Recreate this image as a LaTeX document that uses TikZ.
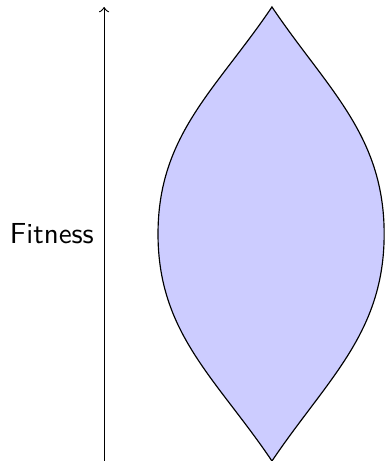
\documentclass[tikz,border=0pt]{standalone}
\begin{document}
\begin{tikzpicture}[x=1pt, y=1pt]
            \useasboundingbox (0, 0) rectangle (133.2, 159);
            \tikzset{every node/.style = {font=\sffamily}}

            {
                \coordinate (base) at (35.9, 0);
                \coordinate (tip) at (35.9, 156.6);

                \coordinate (top) at (93.8, 156.6);
                \coordinate (left) at (54.5, 78.3);
                \coordinate (bottom) at (93.8, 0);
                \coordinate (right) at (132.5, 78.3);
            }

            % fitness axis with its label
            \draw (base) edge[->] node[left, midway] {Fitness} (tip);

            % the lens
            \filldraw[fill=blue!20] (top) to[out=236, in=90] (left)
                to[out=-90, in=124] (bottom)
                to[out=56, in=-90] (right)
                to[out=90, in=-56] (top) -- cycle;

        \end{tikzpicture}
\end{document}
